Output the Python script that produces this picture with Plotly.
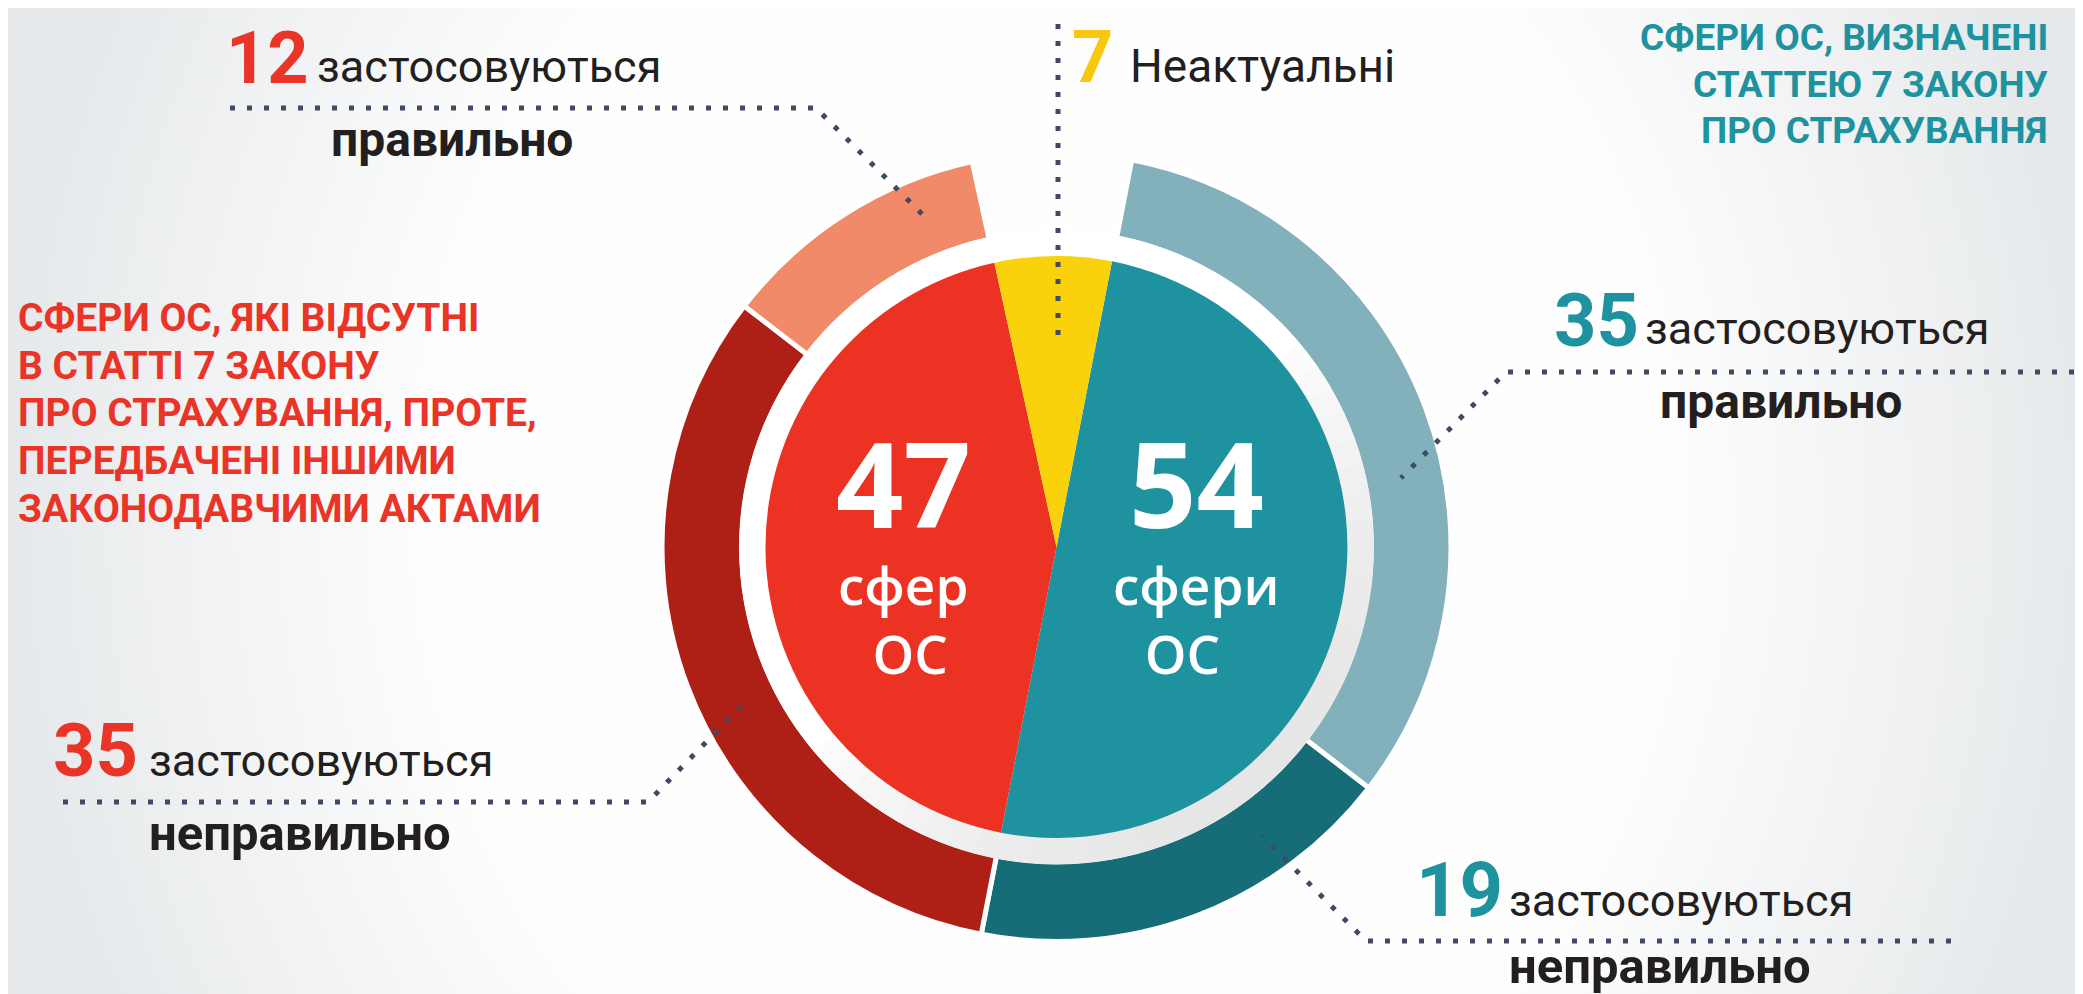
import math
import plotly.graph_objects as go

W, H = 2083, 994

# ---------------- data ----------------
inner_labels = ["54 сфери ОС (визначені)", "47 сфер ОС (відсутні)", "7 Неактуальні"]
inner_values = [54, 47, 7]
inner_colors = ["#1E929F", "#EB3223", "#F9D20C"]

outer_labels = ["35 визн. правильно", "19 визн. неправильно",
                "35 відс. неправильно", "12 відс. правильно", "7 неактуальні"]
outer_values = [35, 19, 35, 12, 7]
outer_colors = ["#82B1BC", "#176D77", "#AE1F16", "#F18A69", "rgba(0,0,0,0)"]

# ---------------- geometry / style ----------------
cx, cy = 1048.5, 539.0
R_PIE, R_GAP, R_OUT = 291.0, 317.0, 392.0
STROKE = 5
ROT = 11.0

LBL = "Roboto, Noto Sans, sans-serif"
OPEN = "Open Sans, Noto Sans, sans-serif"
DARK = "#231F20"
TEAL = "#1E929F"
RED = "#E93427"
YEL = "#F9C80E"
DOT = "#414a63"
DXL = -10   # left-anchored text correction
DXC = -6    # centred text correction


def dom(r):
    return dict(x=[(cx - r) / W, (cx + r) / W], y=[1 - (cy + r) / H, 1 - (cy - r) / H])


fig = go.Figure()

# subtle radial background
fig.add_trace(go.Scatter(
    x=[0, W, W, 0, 0], y=[-700, -700, H + 700, H + 700, -700],
    fill="toself", mode="lines", line=dict(width=0, color="rgba(0,0,0,0)"),
    fillcolor="#ffffff",
    fillgradient=dict(type="radial",
                      colorscale=[[0, "#ffffff"], [0.6, "#fdfdfd"], [1, "#e6e9eb"]]),
    hoverinfo="skip", showlegend=False))

# outer ring
r_o = R_OUT + STROKE / 2
fig.add_trace(go.Pie(
    labels=outer_labels, values=outer_values, sort=False, direction="clockwise",
    rotation=ROT, hole=(R_GAP - STROKE / 2) / r_o, domain=dom(r_o),
    marker=dict(colors=outer_colors,
                line=dict(color="white", width=[STROKE] * 4 + [0])),
    textinfo="none", hoverinfo="skip", showlegend=False))

# shadowed white ring between pie and outer ring (decoration)
n_sh = 72
sh_cols = []
for i in range(n_sh):
    th = (i + 0.5) * 360 / n_sh
    t = max(0.0, math.cos(math.radians(th - 140)))
    g = round(255 - 25 * t ** 0.7)
    sh_cols.append(f"rgb({g},{g},{g})")
fig.add_trace(go.Pie(
    labels=[f"s{i}" for i in range(n_sh)], values=[1] * n_sh, sort=False,
    direction="clockwise", rotation=0, hole=R_PIE / R_GAP, domain=dom(R_GAP),
    marker=dict(colors=sh_cols, line=dict(color=sh_cols, width=1)),
    textinfo="none", hoverinfo="skip", showlegend=False))

# inner pie
fig.add_trace(go.Pie(
    labels=inner_labels, values=inner_values, sort=False, direction="clockwise",
    rotation=ROT, domain=dom(R_PIE),
    marker=dict(colors=inner_colors, line=dict(width=0)),
    textinfo="none", hoverinfo="skip", showlegend=False))


def txt(x, base, s, size, color, family=LBL, weight="normal", xanchor="left", k=0.342):
    dx = DXL if xanchor == "left" else (DXC if xanchor == "center" else 0)
    return dict(x=x + dx, y=base - k * size, xref="x", yref="y", text=s, showarrow=False,
                xanchor=xanchor, yanchor="middle",
                font=dict(size=size, color=color, family=family, weight=weight))


ann = []
# top-left label (12)
ann.append(txt(226, 75, str(outer_values[3]), 72, RED, weight="bold"))
ann.append(txt(317, 74, "застосовуються", 45, DARK))
ann.append(txt(450, 148, "правильно", 48, DARK, weight="bold", xanchor="center"))
# top label (7)
ann.append(txt(1072, 74, str(inner_values[2]), 72, YEL, weight="bold"))
ann.append(txt(1130, 74, "Неактуальні", 46, DARK))
# right labels (35)
ann.append(txt(1554, 338, str(outer_values[0]), 74, TEAL, weight="bold"))
ann.append(txt(1645, 336, "застосовуються", 45, DARK))
ann.append(txt(1779, 410, "правильно", 48, DARK, weight="bold", xanchor="center"))
# left labels (35)
ann.append(txt(53, 768, str(outer_values[2]), 74, RED, weight="bold"))
ann.append(txt(149, 768, "застосовуються", 45, DARK))
ann.append(txt(149, 842, "неправильно", 49, DARK, weight="bold"))
# bottom-right labels (19)
ann.append(txt(1416, 908, str(outer_values[1]), 76, TEAL, weight="bold"))
ann.append(txt(1509, 908, "застосовуються", 45, DARK))
ann.append(txt(1509, 975, "неправильно", 49, DARK, weight="bold"))

# teal heading (right aligned)
for base, line in zip([42, 89, 135], ["СФЕРИ ОС, ВИЗНАЧЕНІ", "СТАТТЕЮ 7 ЗАКОНУ", "ПРО СТРАХУВАННЯ"]):
    ann.append(txt(2042, base, line, 37, TEAL, weight="bold", xanchor="right"))
# red heading (left aligned)
red_lines = ["СФЕРИ ОС, ЯКІ ВІДСУТНІ", "В СТАТТІ 7 ЗАКОНУ", "ПРО СТРАХУВАННЯ, ПРОТЕ,",
             "ПЕРЕДБАЧЕНІ ІНШИМИ", "ЗАКОНОДАВЧИМИ АКТАМИ"]
for base, line in zip([323, 371, 418, 466, 514], red_lines):
    ann.append(txt(18, base, line, 39, RED, weight="bold"))


# centre numbers and captions
def centre_num(x, base, num):
    return dict(x=x + DXC, y=base - 0.388 * 118, xref="x", yref="y", text=str(num),
                showarrow=False, xanchor="center", yanchor="middle",
                font=dict(size=118, color="white", family=OPEN, weight="bold"))


def centre_words(x, base2, word, last, size=53):
    mid = base2 + (-1.069 * size + 1.3 * size + 0.293 * size) / 2
    return dict(x=x + DXC, y=mid, xref="x", yref="y", text=f"{word}<br>{last}",
                showarrow=False, xanchor="center", yanchor="middle", align="center",
                font=dict(size=size, color="white", family=OPEN, weight=600))


ann.append(centre_num(901, 520, inner_values[1]))
ann.append(centre_words(901, 597, "сфер", "\u00a0ОС"))
ann.append(centre_num(1194, 520, inner_values[0]))
ann.append(centre_words(1194, 597, "сфери", "ОС\u00a0\u00a0"))


# dotted leader lines
def dotted(points):
    d = "M " + " L ".join(f"{x},{y}" for x, y in points)
    return dict(type="path", path=d, xref="x", yref="y", layer="above",
                line=dict(color=DOT, width=5, dash="5px,12px"))


shapes = [
    dotted([(222, 100), (808, 100), (914, 206)]),
    dotted([(1050, 16), (1050, 334)]),
    dotted([(2083, 364), (1498, 364), (1393, 470)]),
    dotted([(55, 794), (640, 794), (733, 698)]),
    dotted([(1943, 933), (1358, 933), (1254, 828)]),
]

fig.update_layout(
    width=W, height=H, margin=dict(l=0, r=0, t=0, b=0),
    paper_bgcolor="white", plot_bgcolor="rgba(0,0,0,0)",
    xaxis=dict(range=[0, W], visible=False, fixedrange=True, domain=[0, 1]),
    yaxis=dict(range=[H, 0], visible=False, fixedrange=True, domain=[0, 1]),
    annotations=ann, shapes=shapes, showlegend=False,
)

fig.write_html("out.html", config={"displayModeBar": False})
